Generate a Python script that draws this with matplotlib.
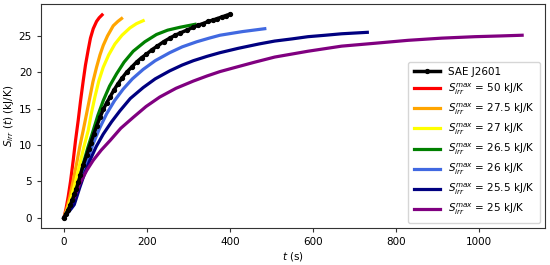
import matplotlib
matplotlib.use("Agg")
import matplotlib.pyplot as plt

# SAE J2601 reference data
t_sae = [0, 5, 10, 15, 20, 25, 30, 35, 40, 47, 55, 60, 65, 72, 79, 87, 95, 103, 111, 120, 130, 140, 151, 163,
         175, 187, 199, 212, 225, 240, 255, 268, 280, 296, 312, 324, 335, 348, 360, 370, 380, 390, 400]
s_sae = [0, 0.5, 1.0, 1.7, 2.4, 3.2, 4.0, 4.9, 5.9, 7.3, 8.6, 9.5, 10.3, 11.5, 12.6, 13.8, 14.9, 15.8, 16.6,
         17.5, 18.4, 19.2, 20.0, 20.7, 21.4, 22.0, 22.5, 23.1, 23.6, 24.2, 24.7, 25.1, 25.4, 25.8, 26.2,
         26.5, 26.7, 27.0, 27.2, 27.4, 27.6, 27.8, 28.0]

# Model curves (t in s, S in kJ/K)
t_50 = [0, 5, 10.4, 16, 22.5, 28, 34.5, 40, 46.5, 52, 58.6, 64, 70.7, 78.7, 85, 92]
s_50 = [0, 1.2, 2.9, 5.0, 7.9, 10.6, 13.4, 16.0, 18.8, 21.0, 23.1, 24.7, 26.0, 27.0, 27.5, 27.9]

t_275 = [0, 7, 14.5, 22, 30.5, 38, 46.5, 55, 62.7, 70, 78.7, 87, 94.8, 105, 118.9, 130, 139]
s_275 = [0, 1.2, 2.9, 5.0, 7.4, 9.7, 12.0, 14.4, 16.6, 18.7, 20.7, 22.4, 23.7, 25.0, 26.4, 27.0, 27.4]

t_27 = [0, 9, 18.5, 28, 38.5, 48, 58.6, 66, 74.7, 84, 94.8, 108, 123, 140, 159, 175, 191]
s_27 = [0, 1.2, 2.9, 5.0, 7.4, 9.7, 12.0, 14.3, 16.6, 18.8, 20.7, 22.4, 23.9, 25.1, 26.1, 26.7, 27.1]

t_265 = [0, 12, 26.5, 36, 46.5, 58, 70.7, 82, 94.8, 110, 127, 145, 167, 195, 223, 250, 280, 316]
s_265 = [0, 1.2, 2.9, 5.0, 7.4, 9.7, 12.0, 14.1, 16.1, 18.1, 19.8, 21.4, 22.9, 24.2, 25.2, 25.8, 26.2, 26.6]

t_26 = [0, 12, 26.5, 36, 46.5, 58, 70.7, 86, 103, 122, 143, 165, 191, 220, 255, 285, 320, 350, 376, 430, 484]
s_26 = [0, 1.2, 2.9, 4.5, 6.1, 8.2, 10.2, 12.3, 14.3, 16.1, 17.7, 19.1, 20.4, 21.6, 22.7, 23.5, 24.2,
        24.7, 25.1, 25.6, 26.0]

t_255 = [0, 10, 18.5, 25, 38.5, 50, 62.7, 78, 94.8, 115, 135, 160, 191, 220, 255, 285, 312, 345, 376,
         420, 470, 508, 550, 588, 630, 669, 731]
s_255 = [0, 0.7, 1.3, 1.8, 4.2, 6.1, 7.9, 9.8, 11.5, 13.2, 14.7, 16.4, 17.9, 19.1, 20.2, 21.0, 21.6,
         22.2, 22.7, 23.3, 23.9, 24.3, 24.6, 24.9, 25.1, 25.3, 25.5]

t_25 = [0, 7, 14.5, 25, 38.5, 55, 70.7, 90, 111, 137, 167, 198, 231, 270, 312, 345, 376, 408, 460, 508,
        588, 669, 750, 829, 910, 990, 1050, 1104]
s_25 = [0, 0.7, 1.5, 2.8, 4.7, 6.5, 7.9, 9.3, 10.6, 12.3, 13.8, 15.3, 16.6, 17.8, 18.8, 19.5, 20.1, 20.6,
        21.4, 22.1, 22.9, 23.6, 24.0, 24.4, 24.7, 24.9, 25.0, 25.1]

smax_labels = ["50", "27.5", "27", "26.5", "26", "25.5", "25"]
colors = ["red", "orange", "yellow", "green", "royalblue", "navy", "purple"]

fig = plt.figure(figsize=(5.5, 2.65), dpi=100)
ax = fig.add_axes([0.0745, 0.14, 0.9165, 0.845])

ax.plot(t_sae, s_sae, color="black", marker="o", markersize=2.8, linewidth=2.5,
        label="SAE J2601", zorder=3)
curves = [(t_50, s_50), (t_275, s_275), (t_27, s_27), (t_265, s_265),
          (t_26, s_26), (t_255, s_255), (t_25, s_25)]
for (tt, ss), lab, c in zip(curves, smax_labels, colors):
    ax.plot(tt, ss, color=c, linewidth=2.3,
            label=r"$S_{irr}^{max}$ = " + lab + " kJ/K")

ax.set_xticks([0, 200, 400, 600, 800, 1000])
ax.set_yticks([0, 5, 10, 15, 20, 25])
ax.tick_params(labelsize=7.5, length=3, width=0.8, color="#333333")
ax.set_xlabel(r"$t$ (s)", fontsize=7.5, labelpad=2)
ax.set_ylabel(r"$S_{irr}\ (t)$ (kJ/K)", fontsize=7.5, labelpad=2)
for sp in ax.spines.values():
    sp.set_color("#333333")
    sp.set_linewidth(0.8)

ax.legend(loc="lower right", fontsize=7.5, handlelength=2.5, labelspacing=0.45,
          borderpad=0.5, framealpha=0.8)

fig.savefig("out.png", dpi=100)
